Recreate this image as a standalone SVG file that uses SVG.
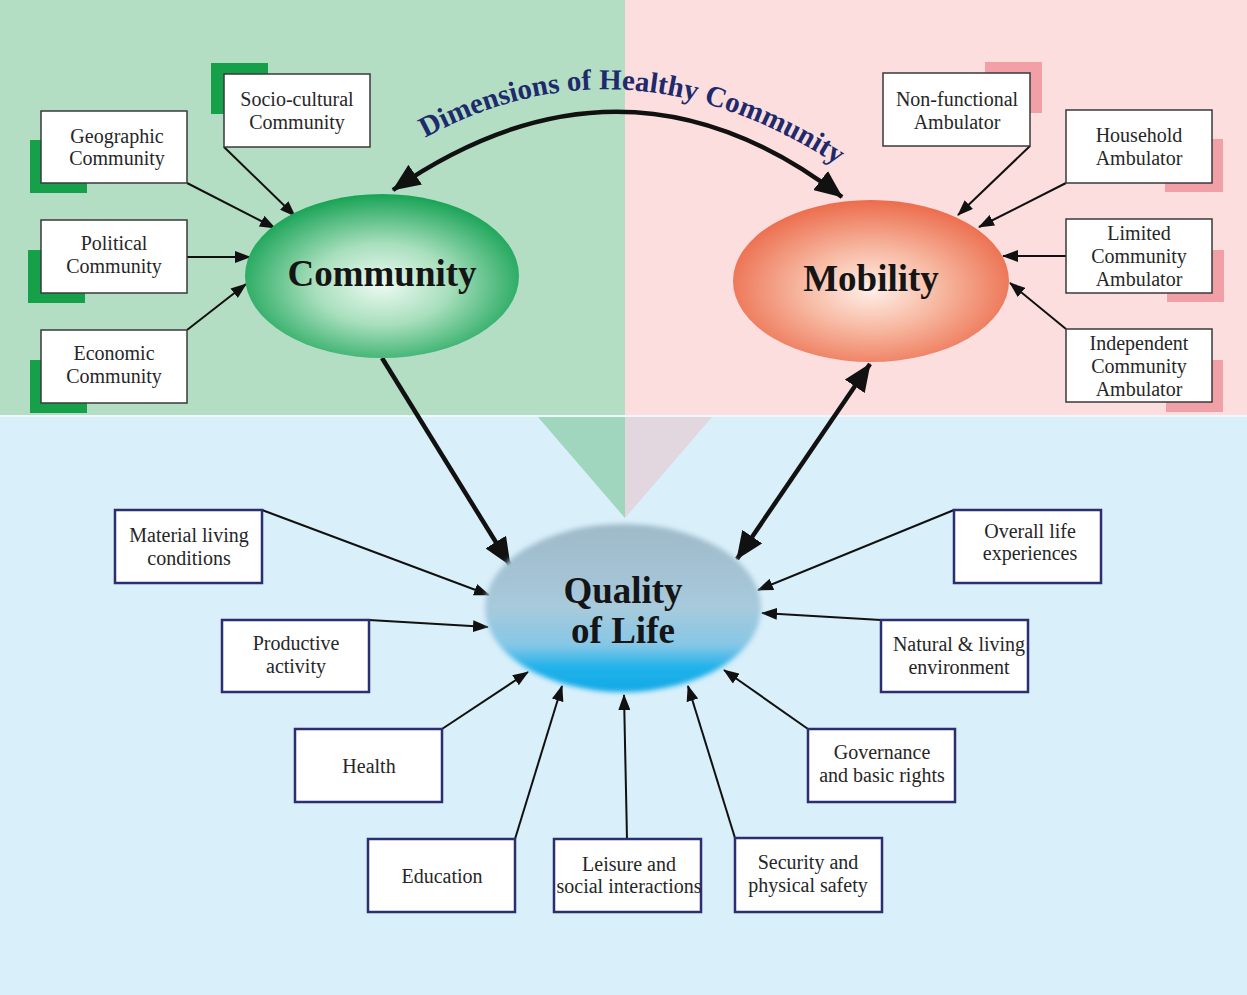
<svg xmlns="http://www.w3.org/2000/svg" xmlns:xlink="http://www.w3.org/1999/xlink" width="1247" height="995" viewBox="0 0 1247 995">
  <style>
    .box { fill: #ffffff; stroke: #3a3a3a; stroke-width: 1.5; }
    .qbox { fill: #ffffff; stroke: #2b2f70; stroke-width: 2.5; }
    .gacc { fill: #17a04a; }
    .pacc { fill: #f0a0a6; }
    .lbl { font-family: "Liberation Serif", "Times New Roman", serif; font-size: 20px; fill: #262626; text-anchor: middle; }
    .big { font-family: "Liberation Serif", "Times New Roman", serif; font-size: 37px; font-weight: bold; fill: #151515; text-anchor: middle; }
    .thin { fill: none; stroke: #111; stroke-width: 2; marker-end: url(#ah); }
    .thick { fill: none; stroke: #111; stroke-width: 4.5; }
  </style>
  <defs>
    <marker id="ah" markerUnits="userSpaceOnUse" markerWidth="16" markerHeight="12" refX="15" refY="6" orient="auto">
      <path d="M0,0 L16,6 L0,12 z" fill="#111"/>
    </marker>
    <marker id="bigE" markerUnits="userSpaceOnUse" markerWidth="28" markerHeight="24" refX="27" refY="12" orient="auto">
      <path d="M0,0 L28,12 L0,24 z" fill="#111"/>
    </marker>
    <marker id="bigS" markerUnits="userSpaceOnUse" markerWidth="28" markerHeight="24" refX="1" refY="12" orient="auto">
      <path d="M28,0 L0,12 L28,24 z" fill="#111"/>
    </marker>
    <radialGradient id="gComm" cx="50%" cy="55%" r="55%">
      <stop offset="0" stop-color="#eefaf2"/>
      <stop offset="0.45" stop-color="#a8dfbd"/>
      <stop offset="1" stop-color="#17a355"/>
    </radialGradient>
    <radialGradient id="gMob" cx="50%" cy="55%" r="55%">
      <stop offset="0" stop-color="#fff0ea"/>
      <stop offset="0.45" stop-color="#f7b9a2"/>
      <stop offset="1" stop-color="#ec6c4c"/>
    </radialGradient>
    <linearGradient id="gQol" x1="0" y1="0" x2="0" y2="1">
      <stop offset="0" stop-color="#9fb9c8"/>
      <stop offset="0.5" stop-color="#a7cadc"/>
      <stop offset="0.72" stop-color="#86c7e6"/>
      <stop offset="0.85" stop-color="#22b2ea"/>
      <stop offset="1" stop-color="#10a9e6"/>
    </linearGradient>
    <filter id="soft" x="-10%" y="-10%" width="120%" height="120%">
      <feGaussianBlur stdDeviation="2.5"/>
    </filter>
    <path id="titlePath" d="M 414 144 Q 625 22 848 172"/>
  </defs>

  <!-- background panels -->
  <rect x="0" y="0" width="1247" height="995" fill="#d9effa"/>
  <rect x="0" y="0" width="625" height="415" fill="#b3dec4"/>
  <rect x="625" y="0" width="622" height="415" fill="#fcdede"/>
  <line x1="0" y1="416" x2="1247" y2="416" stroke="#eef7fb" stroke-width="2"/>
  <polygon points="538,417 625,417 625,518" fill="#9fd6bd"/>
  <polygon points="625,417 712,417 625,518" fill="#e2d6df"/>

  <!-- connectors -->
  <g id="connectors">
    <path class="thick" d="M 393 190 Q 625 30 842 197" marker-start="url(#bigS)" marker-end="url(#bigE)"/>
    <line class="thick" x1="382" y1="358" x2="510" y2="565" marker-end="url(#bigE)"/>
    <line class="thick" x1="870" y1="364" x2="737" y2="559" marker-start="url(#bigS)" marker-end="url(#bigE)"/>

    <line class="thin" x1="224" y1="147" x2="295" y2="216"/>
    <line class="thin" x1="187" y1="183" x2="275" y2="228"/>
    <line class="thin" x1="187" y1="257" x2="250" y2="257"/>
    <line class="thin" x1="187" y1="330" x2="246" y2="284"/>

    <line class="thin" x1="1030" y1="146" x2="958" y2="215"/>
    <line class="thin" x1="1066" y1="183" x2="979" y2="227"/>
    <line class="thin" x1="1066" y1="256" x2="1003" y2="256"/>
    <line class="thin" x1="1066" y1="329" x2="1010" y2="283"/>

    <line class="thin" x1="262" y1="510" x2="489" y2="595"/>
    <line class="thin" x1="369" y1="620" x2="488" y2="627"/>
    <line class="thin" x1="442" y1="729" x2="528" y2="672"/>
    <line class="thin" x1="515" y1="839" x2="562" y2="686"/>
    <line class="thin" x1="627" y1="839" x2="624" y2="695"/>
    <line class="thin" x1="735" y1="838" x2="688" y2="686"/>
    <line class="thin" x1="808" y1="729" x2="724" y2="670"/>
    <line class="thin" x1="881" y1="620" x2="762" y2="613"/>
    <line class="thin" x1="954" y1="510" x2="758" y2="590"/>
  </g>

  <!-- title along the top arc -->
  <text font-family="'Liberation Serif', 'Times New Roman', serif" font-size="29" font-weight="bold" fill="#1e2a6c">
    <textPath xlink:href="#titlePath" startOffset="50%" text-anchor="middle">Dimensions of Healthy Community</textPath>
  </text>

  <!-- hub nodes -->
  <g id="community">
    <ellipse cx="382" cy="276" rx="137" ry="82" fill="url(#gComm)"/>
    <text class="big" x="382" y="286">Community</text>
  </g>
  <g id="mobility">
    <ellipse cx="871" cy="281" rx="138" ry="81" fill="url(#gMob)"/>
    <text class="big" x="871" y="291">Mobility</text>
  </g>
  <g id="quality-of-life">
    <ellipse cx="623" cy="608" rx="138" ry="84" fill="url(#gQol)" filter="url(#soft)"/>
    <text class="big" x="623" y="603">Quality</text>
    <text class="big" x="623" y="643">of Life</text>
  </g>

  <!-- community dimensions -->
  <g id="socio-cultural">
    <rect class="gacc" x="211" y="63" width="57" height="51"/>
    <rect class="box" x="224" y="74" width="146" height="73"/>
    <text class="lbl" x="297" y="106">Socio-cultural</text>
    <text class="lbl" x="297" y="129">Community</text>
  </g>
  <g id="geographic">
    <rect class="gacc" x="30" y="140" width="57" height="53"/>
    <rect class="box" x="41" y="111" width="146" height="72"/>
    <text class="lbl" x="117" y="143">Geographic</text>
    <text class="lbl" x="117" y="165">Community</text>
  </g>
  <g id="political">
    <rect class="gacc" x="28" y="250" width="57" height="53"/>
    <rect class="box" x="41" y="220" width="146" height="73"/>
    <text class="lbl" x="114" y="250">Political</text>
    <text class="lbl" x="114" y="273">Community</text>
  </g>
  <g id="economic">
    <rect class="gacc" x="30" y="360" width="57" height="53"/>
    <rect class="box" x="41" y="330" width="146" height="73"/>
    <text class="lbl" x="114" y="360">Economic</text>
    <text class="lbl" x="114" y="383">Community</text>
  </g>

  <!-- mobility levels -->
  <g id="non-functional">
    <rect class="pacc" x="985" y="62" width="57" height="51"/>
    <rect class="box" x="883" y="73" width="147" height="73"/>
    <text class="lbl" x="957" y="106">Non-functional</text>
    <text class="lbl" x="957" y="129">Ambulator</text>
  </g>
  <g id="household">
    <rect class="pacc" x="1165" y="139" width="58" height="53"/>
    <rect class="box" x="1066" y="110" width="146" height="73"/>
    <text class="lbl" x="1139" y="142">Household</text>
    <text class="lbl" x="1139" y="165">Ambulator</text>
  </g>
  <g id="limited">
    <rect class="pacc" x="1167" y="250" width="57" height="52"/>
    <rect class="box" x="1066" y="219" width="146" height="74"/>
    <text class="lbl" x="1139" y="240">Limited</text>
    <text class="lbl" x="1139" y="263">Community</text>
    <text class="lbl" x="1139" y="286">Ambulator</text>
  </g>
  <g id="independent">
    <rect class="pacc" x="1166" y="360" width="57" height="52"/>
    <rect class="box" x="1066" y="329" width="146" height="73"/>
    <text class="lbl" x="1139" y="350">Independent</text>
    <text class="lbl" x="1139" y="373">Community</text>
    <text class="lbl" x="1139" y="396">Ambulator</text>
  </g>

  <!-- quality of life domains -->
  <g id="material">
    <rect class="qbox" x="115" y="510" width="147" height="73"/>
    <text class="lbl" x="189" y="542">Material living</text>
    <text class="lbl" x="189" y="565">conditions</text>
  </g>
  <g id="productive">
    <rect class="qbox" x="222" y="620" width="147" height="72"/>
    <text class="lbl" x="296" y="650">Productive</text>
    <text class="lbl" x="296" y="673">activity</text>
  </g>
  <g id="health">
    <rect class="qbox" x="295" y="729" width="147" height="73"/>
    <text class="lbl" x="369" y="773">Health</text>
  </g>
  <g id="education">
    <rect class="qbox" x="368" y="839" width="147" height="73"/>
    <text class="lbl" x="442" y="883">Education</text>
  </g>
  <g id="leisure">
    <rect class="qbox" x="554" y="839" width="147" height="73"/>
    <text class="lbl" x="629" y="871">Leisure and</text>
    <text class="lbl" x="629" y="893">social interactions</text>
  </g>
  <g id="security">
    <rect class="qbox" x="735" y="838" width="147" height="74"/>
    <text class="lbl" x="808" y="869">Security and</text>
    <text class="lbl" x="808" y="892">physical safety</text>
  </g>
  <g id="governance">
    <rect class="qbox" x="808" y="729" width="147" height="73"/>
    <text class="lbl" x="882" y="759">Governance</text>
    <text class="lbl" x="882" y="782">and basic rights</text>
  </g>
  <g id="natural">
    <rect class="qbox" x="881" y="620" width="147" height="72"/>
    <text class="lbl" x="959" y="651">Natural &amp; living</text>
    <text class="lbl" x="959" y="674">environment</text>
  </g>
  <g id="overall">
    <rect class="qbox" x="954" y="510" width="147" height="73"/>
    <text class="lbl" x="1030" y="538">Overall life</text>
    <text class="lbl" x="1030" y="560">experiences</text>
  </g>
</svg>
